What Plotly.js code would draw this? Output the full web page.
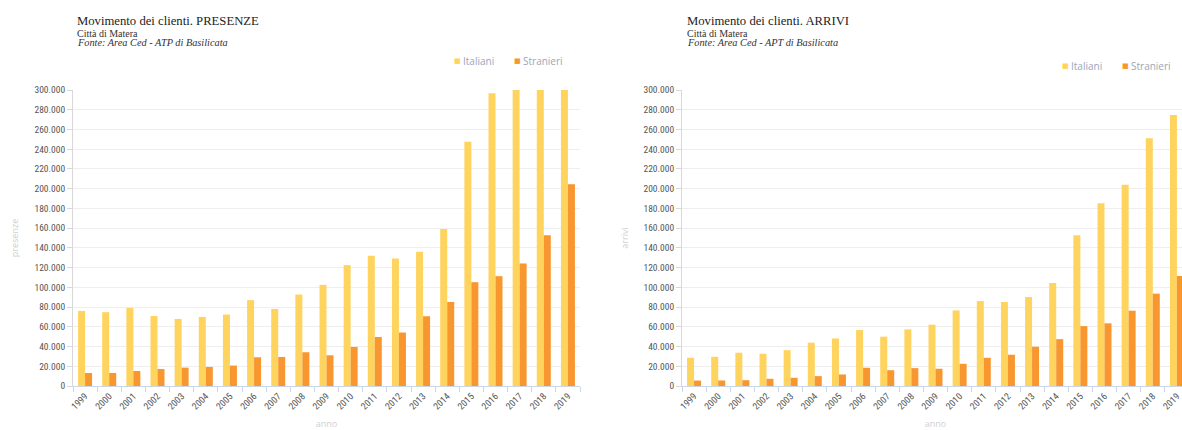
<!DOCTYPE html>
<html>
<head>
<meta charset="utf-8">
<script src="https://cdn.plot.ly/plotly-3.0.1.min.js"></script>
<style>
html,body{margin:0;padding:0;width:1182px;height:430px;overflow:hidden;background:#fff;}
#c1{position:absolute;left:0;top:0;width:595px;height:430px;}
#c2{position:absolute;left:600px;top:0;width:604px;height:430px;}
.xtick text, .ytick text { font-stretch: 87.5%; }
</style>
</head>
<body>
<div id="c1"></div>
<div id="c2"></div>
<script>
const years = ['1999','2000','2001','2002','2003','2004','2005','2006','2007','2008','2009','2010','2011','2012','2013','2014','2015','2016','2017','2018','2019'];
const seriesNames = ['Italiani','Stranieri'];
const seriesColors = ['#FED35E','#F8962F'];

// PRESENZE (values above 300.000 are clipped by the axis in the original)
const presenzeItaliani = [76100,74800,79100,71000,68000,70000,72400,87000,78100,92700,102500,122500,131900,129200,136000,159000,247600,296700,313000,368000,390000];
const presenzeStranieri = [13200,13200,15200,17200,18600,19300,20700,29100,29400,34200,31100,39600,49700,54200,70700,85200,105200,111300,124200,152900,204600];

// ARRIVI
const arriviItaliani = [28600,29600,33700,32700,36300,43900,48200,56700,50000,57400,62100,76600,86100,85100,90200,104400,152800,185300,203900,251000,274600];
const arriviStranieri = [5500,5600,5900,7300,8300,10000,11700,18500,16000,18100,17500,22500,28600,31700,39800,47500,60700,63500,76300,93600,111500];

const titles = ['Movimento dei clienti. PRESENZE','Movimento dei clienti. ARRIVI'];
const subtitle = 'Città di Matera';
const sources = ['Fonte: Area Ced - ATP di Basilicata','Fonte: Area Ced - APT di Basilicata'];
const yTitles = ['presenze','arrivi'];
const xTitle = 'anno';

const PW = 507, PT = 90, PB = 386;
const tickFont = {family:'Roboto, sans-serif', size:9.5, color:'#555'};

function makeChart(div, left, width, ita, str, title, source, ytitle, ystandoff, legendPx, legendY, titleX) {
  const fx = px => (px - left) / PW;
  const fy = py => (PB - py) / (PB - PT);
  const traces = [
    {type:'bar', x:years, y:ita, name:seriesNames[0], marker:{color:seriesColors[0]}, showlegend:false, hoverinfo:'x+y'},
    {type:'bar', x:years, y:str, name:seriesNames[1], marker:{color:seriesColors[1]}, showlegend:false, hoverinfo:'x+y'}
  ];
  const serif = 'Liberation Serif, Times New Roman, serif';
  const ann = [
    {text:title, x:fx(titleX), y:fy(21), xref:'paper', yref:'paper', xanchor:'left', yanchor:'middle', showarrow:false, font:{family:serif, size:12.7, color:'#222'}},
    {text:subtitle, x:fx(titleX), y:fy(33), xref:'paper', yref:'paper', xanchor:'left', yanchor:'middle', showarrow:false, font:{family:serif, size:10, color:'#333'}},
    {text:'<i>'+source+'</i>', x:fx(titleX), y:fy(42.5), xref:'paper', yref:'paper', xanchor:'left', yanchor:'middle', showarrow:false, font:{family:serif, size:10.3, color:'#333'}}
  ];
  for (let i = 0; i < 2; i++) {
    ann.push({text:'■', x:fx(legendPx[i]), y:fy(legendY), xref:'paper', yref:'paper', xanchor:'center', yanchor:'middle', showarrow:false, font:{family:'DejaVu Sans', size:7, color:seriesColors[i]}});
    ann.push({text:seriesNames[i], x:fx(legendPx[i]+4), y:fy(legendY), xref:'paper', yref:'paper', xanchor:'left', yanchor:'middle', showarrow:false, font:{family:'Open Sans, sans-serif', size:10, color:'#9aa6b8'}});
  }
  const layout = {
    width: width,
    height: 430,
    margin:{l:left === 73 ? 73 : 82, r:15, t:PT, b:430-PB, pad:0},
    paper_bgcolor:'#fff', plot_bgcolor:'#fff',
    separators:',.',
    barmode:'group', bargap:0.42, bargroupgap:0,
    showlegend:false,
    xaxis:{type:'category', tickangle:-45, tickfont:tickFont, showgrid:false, showline:true, linecolor:'#ccd6eb', linewidth:1,
           ticks:'outside', tickson:'boundaries', ticklen:5, tickcolor:'#ccd6eb', automargin:false,
           title:{text:xTitle, font:{family:'Open Sans, sans-serif', size:9, color:'#d0d0d0'}, standoff:50}},
    yaxis:{range:[0,300000], dtick:20000, tickformat:',d', tickfont:tickFont, showgrid:true, gridcolor:'#eeeeee', gridwidth:1,
           zeroline:false, showline:true, linecolor:'#d8d8d8', ticks:'outside', ticklen:5, tickcolor:'#d8d8d8', automargin:false,
           title:{text:ytitle, font:{family:'Open Sans, sans-serif', size:9, color:'#d0d0d0'}, standoff:ystandoff}},
    annotations: ann
  };
  Plotly.newPlot(div, traces, layout, {staticPlot:true, displayModeBar:false});
}

makeChart('c1', 73, 595, presenzeItaliani, presenzeStranieri, titles[0], sources[0], yTitles[0], 14, [457, 517], 61, 75);
makeChart('c2', 682, 604, arriviItaliani, arriviStranieri, titles[1], sources[1], yTitles[1], 13, [1065, 1125], 66, 685);
</script>
</body>
</html>
